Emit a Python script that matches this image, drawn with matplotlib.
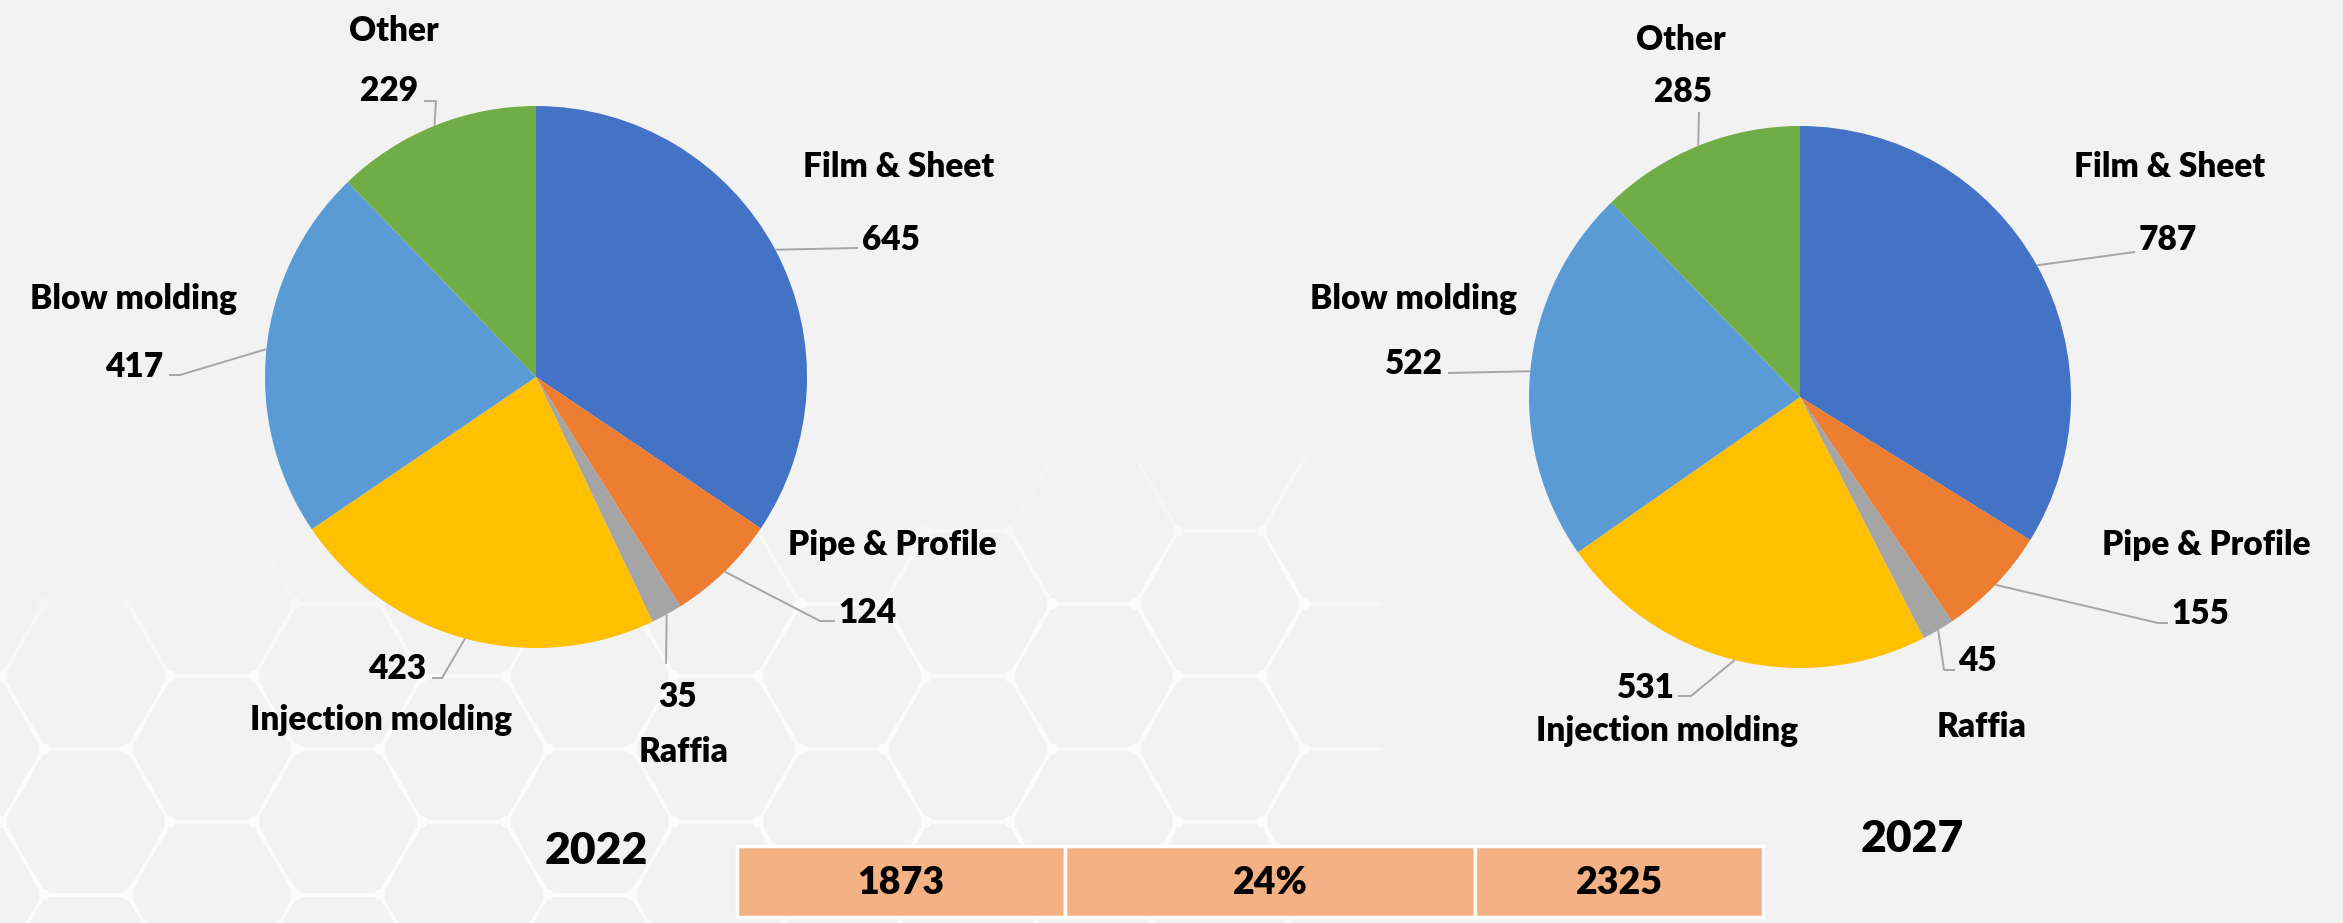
import numpy as np
import matplotlib
matplotlib.use("Agg")
import matplotlib.pyplot as plt
from matplotlib.collections import LineCollection
from matplotlib.patches import Rectangle

# ---------------- data ----------------
categories = ["Film & Sheet", "Pipe & Profile", "Raffia",
              "Injection molding", "Blow molding", "Other"]
values_2022 = [645, 124, 35, 423, 417, 229]
values_2027 = [787, 155, 45, 531, 522, 285]
years = ["2022", "2027"]
table_values = ["1873", "24%", "2325"]
colors = ["#4472C4", "#ED7D31", "#A5A5A5", "#FFC000", "#5B9BD5", "#70AD47"]

# ---------------- layout ----------------
W, H = 2343, 923
BG = "#F2F2F2"
FONT = "Lato"
WEIGHT = "heavy"


def Y(y):
    return H - y


fig = plt.figure(figsize=(W / 100, H / 100), dpi=100)
fig.patch.set_facecolor(BG)
ax = fig.add_axes([0, 0, 1, 1])
ax.set_facecolor(BG)

# ---------------- decorative hexagon background ----------------
s = 84.0
hh = np.sqrt(3) / 2 * s


def fade(x, y):
    a = np.clip((y - (575 - 0.11 * x)) / 130.0, 0, 1)
    b = np.clip((1390 - x) / 80.0, 0, 1)
    return 0.75 * a * b


segs, scol, nodes = [], [], set()
bgv = 0xF2 / 255.0
for i in range(-2, 19):
    cx = 86 + i * 1.5 * s
    for j in range(-4, 6):
        cy = 531 + j * 2 * hh + (i % 2) * hh
        vs = [(cx + s * np.cos(np.radians(a)), cy + s * np.sin(np.radians(a)))
              for a in range(0, 360, 60)]
        for k in range(6):
            p, q = vs[k], vs[(k + 1) % 6]
            mx, my = (p[0] + q[0]) / 2, (p[1] + q[1]) / 2
            f = fade(mx, my)
            if f <= 0.01:
                continue
            segs.append([(p[0], Y(p[1])), (q[0], Y(q[1]))])
            v = bgv + (1 - bgv) * f
            scol.append((v, v, v))
        for p in vs:
            nodes.add((round(p[0], 1), round(p[1], 1)))
ax.add_collection(LineCollection(segs, colors=scol, linewidths=2.6, zorder=0))
nx, ny, nc = [], [], []
for (px, py) in nodes:
    f = fade(px, py)
    if f > 0.01:
        v = bgv + (1 - bgv) * f
        nx.append(px); ny.append(Y(py)); nc.append((v, v, v))
ax.scatter(nx, ny, s=70, c=nc, linewidths=0, zorder=0.5)

# ---------------- pies ----------------
R = 271
pies = [
    dict(vals=values_2022, center=(536, 377), year_pos=(596, 848),
         name_pos=[(899, 165), (892, 543), (684, 750), (381, 718), (134, 297), (394, 29)],
         value_pos=[(891, 238), (867, 611), (677, 695), (397, 667), (134, 365), (389, 89)],
         tails=[[(858, 248)], [(820, 621), (835, 621)], [(666, 664)],
                [(442, 678), (432, 678)], [(180, 375), (169, 375)], [(436, 101), (424, 101)]]),
    dict(vals=values_2027, center=(1800, 397), year_pos=(1912, 836),
         name_pos=[(2170, 165), (2206, 543), (1982, 725), (1667, 729), (1414, 297), (1681, 38)],
         value_pos=[(2168, 238), (2200, 612), (1977, 659), (1646, 686), (1414, 362), (1683, 90)],
         tails=[[(2135, 252)], [(2158, 623), (2168, 623)], [(1944, 670), (1955, 670)],
                [(1691, 696), (1678, 696)], [(1448, 373)], [(1699, 112)]]),
]

LBL = 24
for pie, year in zip(pies, years):
    vals = pie["vals"]
    cx, cy = pie["center"]
    ax.pie(vals, colors=colors, startangle=90, counterclock=False,
           center=(cx, Y(cy)), radius=R, frame=True,
           wedgeprops=dict(linewidth=0))
    tot = float(sum(vals))
    cum = np.cumsum([0] + list(vals))
    for k, (name, v) in enumerate(zip(categories, vals)):
        mid = (cum[k] + v / 2.0) / tot * 2 * np.pi
        px, py = cx + R * np.sin(mid), cy - R * np.cos(mid)
        pts = [(px, py)] + pie["tails"][k]
        ax.plot([p[0] for p in pts], [Y(p[1]) for p in pts],
                color="#A6A6A6", lw=1.4, zorder=3, solid_capstyle="butt")
        nxp, nyp = pie["name_pos"][k]
        ax.text(nxp, Y(nyp + 12), name, ha="center", va="baseline",
                fontsize=LBL, fontweight=WEIGHT, family=FONT, color="black", zorder=4)
        vxp, vyp = pie["value_pos"][k]
        ax.text(vxp, Y(vyp + 12), str(v), ha="center", va="baseline",
                fontsize=LBL, fontweight=WEIGHT, family=FONT, color="black", zorder=4)
    yx, yy = pie["year_pos"]
    ax.text(yx, Y(yy + 16), year, ha="center", va="baseline",
            fontsize=32, fontweight=WEIGHT, family=FONT, color="black", zorder=4)

# ---------------- table ----------------
xs = [737, 1065, 1475, 1763]
ty0, ty1 = 846, 917
for k, txt in enumerate(table_values):
    ax.add_patch(Rectangle((xs[k], Y(ty1)), xs[k + 1] - xs[k], ty1 - ty0,
                           facecolor="#F4B183", edgecolor="white", lw=2.5, zorder=2))
    ax.text((xs[k] + xs[k + 1]) / 2, Y((ty0 + ty1) / 2 + 13), txt,
            ha="center", va="baseline", fontsize=27, fontweight=WEIGHT,
            family=FONT, color="black", zorder=4)

ax.set_xlim(0, W)
ax.set_ylim(0, H)
ax.set_aspect("auto")
ax.axis("off")
fig.savefig("out.png", dpi=100, facecolor=BG)
